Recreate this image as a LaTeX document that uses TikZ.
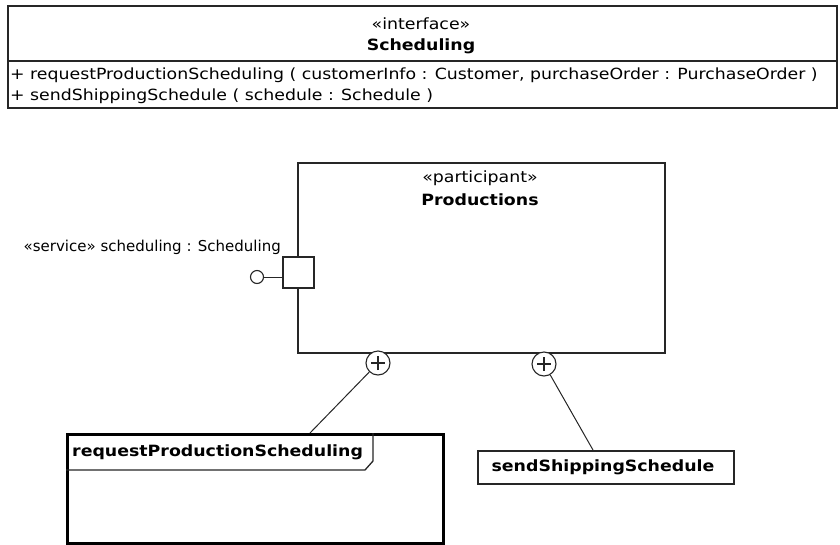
\documentclass[tikz,border=0pt]{standalone}
\usepackage{fontspec}
\setmainfont{DejaVu Sans}
\newfontfamily\widefont[FakeStretch=1.12]{DejaVu Sans}
\newfontfamily\widerfont[FakeStretch=1.125]{DejaVu Sans}
\begin{document}
\begin{tikzpicture}[x=1pt,y=-1pt,
  box/.style={draw=black!85, line width=1.6pt, inner sep=0pt},
  shadowbox/.style={fill=black!35, draw=none, inner sep=0pt},
  txt/.style={inner sep=0pt, font=\widefont\fontsize{15.5}{17}\selectfont},
  mtxt/.style={inner sep=0pt, font=\widerfont\fontsize{15.4}{17}\selectfont},
  ltxt/.style={inner sep=0pt, font=\fontsize{15}{17}\selectfont},
  btxt/.style={inner sep=0pt, font=\widefont\fontsize{15.5}{17}\selectfont\bfseries},
  plusc/.style={draw=black!85, circle, line width=1.1pt, minimum size=24pt, inner sep=0pt, fill=white},
  link/.style={draw=black!85, line width=1pt}]
\useasboundingbox (0,0) rectangle (840,544);
% interface
\node[box, anchor=north west, minimum width=829pt, minimum height=102pt] (iface) at (7,5) {};
\coordinate (dl) at (7,61);
\coordinate (dr) at (836,61);
\draw[draw=black!85, line width=1.4pt] (dl) -- (dr);
\node[txt] (st) at (421,24) {«interface»};
\node[btxt] (nm) at (421,46) {Scheduling};
\node[mtxt, anchor=west] (m1) at (10,75) {+ requestProductionScheduling ( customerInfo : Customer, purchaseOrder : PurchaseOrder )};
\node[mtxt, anchor=west] (m2) at (10,96) {+ sendShippingSchedule ( schedule : Schedule )};
% participant
\node[box, anchor=north west, minimum width=367pt, minimum height=190pt] (prod) at (297,162) {};
\node[txt] (pst) at (480,178) {«participant»};
\node[btxt] (pnm) at (480,200) {Productions};
% port
\node[box, fill=white, minimum size=31pt] (port) at (298.5,272.5) {};
\node[draw=black!85, circle, line width=1.1pt, minimum size=13pt, inner sep=0pt] (ball) at (257,277) {};
\draw[link] (ball) -- (ball -| port.west);
\node[ltxt, anchor=east] (plbl) at (281,247) {«service» scheduling : Scheduling};
% nesting circles
\node[plusc] (c1) at (378,363) {};
\node[plusc] (c2) at (544,364) {};
\foreach \c in {c1,c2}{
  \draw[line width=1.1pt, black!85] ([xshift=-7pt]\c.center) -- ([xshift=7pt]\c.center);
  \draw[line width=1.1pt, black!85] ([yshift=-7pt]\c.center) -- ([yshift=7pt]\c.center);
}
% request box
\node[shadowbox, anchor=north west, minimum width=376pt, minimum height=109pt] (reqsh) at (69,436) {};
\node[draw, fill=white, line width=2.8pt, anchor=north west, minimum width=376pt, minimum height=109pt, inner sep=0pt] (req) at (66,433) {};
\coordinate (tabA) at (66,470);
\coordinate (tabB) at (365,470);
\coordinate (tabC) at (373,461);
\coordinate (tabD) at (373,433);
\draw[line width=1.3pt, black!85] (tabA) -- (tabB) -- (tabC) -- (tabD);
\node[btxt, anchor=west] (rlbl) at (72,452) {requestProductionScheduling};
\coordinate (r1) at (310,433);
\draw[link] (c1) -- (r1);
% send box
\node[shadowbox, anchor=north west, minimum width=256pt, minimum height=33pt] (sendsh) at (479,452) {};
\node[box, anchor=north west, minimum width=256pt, minimum height=33pt, fill=white] (send) at (477,450) {};
\node[btxt] (slbl) at (603,467) {sendShippingSchedule};
\coordinate (s1) at (593,450);
\draw[link] (c2) -- (s1);
\end{tikzpicture}
\end{document}
